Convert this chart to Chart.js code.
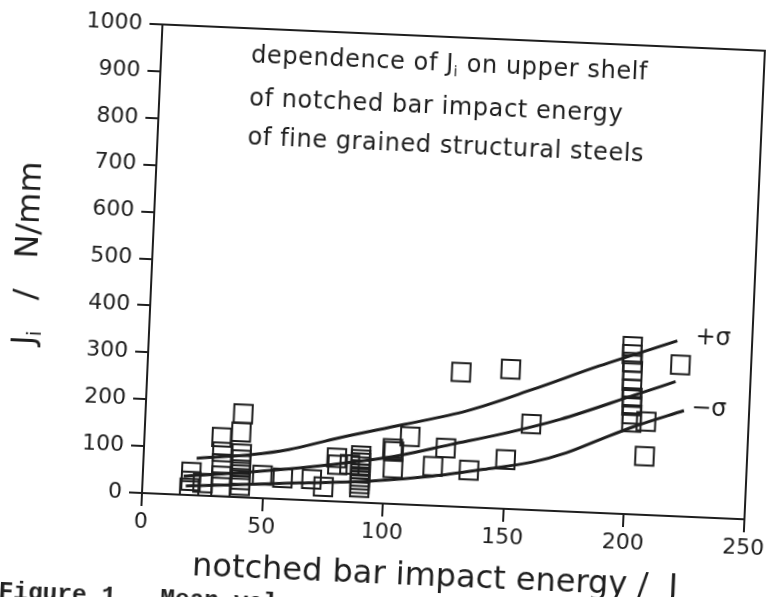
<!DOCTYPE html>
<html>
<head>
<meta charset="utf-8">
<script src="https://cdn.jsdelivr.net/npm/chart.js@4.4.1/dist/chart.umd.min.js"></script>
<style>
html, body { margin: 0; padding: 0; background: #fff; overflow: hidden; }
#page { position: absolute; left: 0; top: 0; width: 771px; height: 597px;
        transform: rotate(2.5deg); transform-origin: 142px 493px; }
#caption { position: absolute; left: 3px; top: 584px; color: #222; white-space: pre;
           font: bold 24.5px "Liberation Mono", monospace; }
</style>
</head>
<body>
<div id="page">
  <canvas id="chart" width="771" height="597"></canvas>
  <div id="caption">Figure 1.  Mean values</div>
</div>
<script>
// measured points (impact energy J, Ji N/mm)
var pointX = [20, 20, 19.5, 25,
  32, 32.5, 32.5, 32.5, 32.5,
  40.5, 40, 40.5, 40.5, 40.5, 40.5, 40.5, 40.5, 40.5,
  49.5, 58, 70, 75, 80, 80.5, 85.5,
  90, 90, 90, 90, 90, 90, 90, 90, 90, 90,
  103, 103.5, 103.5, 110, 120, 125, 130, 135, 150, 150.5, 160,
  200.5, 200.5, 200.8, 201, 201, 201, 201.3, 201.3, 201.5, 201.5,
  207.5, 207.5, 220.7];
var pointY = [49, 30, 15, 27,
  126, 95, 70, 44, 20,
  178, 139, 93, 80, 69, 59, 48, 37, 25,
  49, 45, 45, 30, 93, 78, 80,
  100, 92, 85, 77, 70, 62, 55, 48, 40, 32,
  118, 112, 76, 145, 84, 124, 287, 79, 105, 298, 183,
  358, 341, 324, 306, 284, 267, 249, 231, 213, 196,
  199, 125, 323];

// curves
var meanX = [17, 40, 65, 92, 106, 127, 147, 172, 202, 219];
var meanY = [40, 52, 68, 90, 104, 132, 158, 196, 254, 287];
var plusX = [22, 45, 60, 80, 107, 133, 160, 187, 219];
var plusY = [79, 92, 106, 135, 170, 205, 257, 313, 374];
var minusX = [18, 65, 93, 120, 141, 161, 175, 189, 202, 223];
var minusY = [19, 36, 46, 63, 82, 102, 125, 157, 186, 226];

var xTicks = [0, 50, 100, 150, 200, 250];
var yTicks = [0, 100, 200, 300, 400, 500, 600, 700, 800, 900, 1000];

var INK = '#1e1e1e';
var FONT = 'DejaVu Sans';

function xy(xs, ys) { return xs.map(function (x, i) { return {x: x, y: ys[i]}; }); }

function drawRuns(ctx, runs, x, y, size) {
  runs.forEach(function (r) {
    var fs = r[1] ? size * 0.6 : size;
    ctx.font = fs + 'px "' + FONT + '"';
    ctx.fillText(r[0], x, y + (r[1] ? size * 0.3 : 0));
    x += ctx.measureText(r[0]).width;
  });
}
function runsWidth(ctx, runs, size) {
  var w = 0;
  runs.forEach(function (r) {
    ctx.font = (r[1] ? size * 0.6 : size) + 'px "' + FONT + '"';
    w += ctx.measureText(r[0]).width;
  });
  return w;
}

var decor = {
  id: 'decor',
  afterDraw: function (chart) {
    var ctx = chart.ctx, a = chart.chartArea;
    ctx.save();
    ctx.strokeStyle = INK;
    ctx.lineWidth = 2;
    ctx.strokeRect(a.left, a.top, a.right - a.left, a.bottom - a.top);
    ctx.fillStyle = INK;
    ctx.textBaseline = 'middle';
    ctx.textAlign = 'left';

    // note in the upper part
    ctx.save();
    ctx.letterSpacing = '0.6px';
    var lx = a.left + 90;
    drawRuns(ctx, [['dependence of J'], ['i', 1], [' on upper shelf']], lx, a.top + 28, 24);
    drawRuns(ctx, [['of notched bar impact energy']], lx, a.top + 71, 24);
    drawRuns(ctx, [['of fine grained structural steels']], lx, a.top + 110, 24);
    ctx.restore();

    // y axis title
    var yt = [['J'], ['i', 1], ['   /   N/mm']];
    ctx.save();
    ctx.translate(a.left - 123, (a.top + a.bottom) / 2);
    ctx.rotate(-Math.PI / 2);
    drawRuns(ctx, yt, -runsWidth(ctx, yt, 32) / 2, 0, 32);
    ctx.restore();

    // curve labels
    ctx.font = '24px "' + FONT + '"';
    var p = chart.getDatasetMeta(2).data[plusX.length - 1];
    ctx.fillText('+σ', p.x + 18, p.y - 4);
    var m = chart.getDatasetMeta(3).data[minusX.length - 1];
    ctx.fillText('−σ', m.x + 7, m.y - 2);
    ctx.restore();
  }
};

function curve(label, xs, ys) {
  return {
    label: label, data: xy(xs, ys), showLine: true, cubicInterpolationMode: 'monotone',
    borderColor: INK, borderWidth: 3, pointRadius: 0, fill: false
  };
}

var ctx = document.getElementById('chart').getContext('2d');
new Chart(ctx, {
  type: 'scatter',
  data: {
    datasets: [
      {
        label: 'Ji',
        data: xy(pointX, pointY),
        pointStyle: 'rect',
        pointRadius: 13,
        pointBorderWidth: 2,
        borderColor: INK,
        backgroundColor: 'rgba(0,0,0,0)'
      },
      curve('mean', meanX, meanY),
      curve('+sigma', plusX, plusY),
      curve('-sigma', minusX, minusY)
    ]
  },
  options: {
    responsive: false,
    animation: false,
    layout: { padding: { left: 0, top: 24, right: 26, bottom: 0 } },
    plugins: { legend: { display: false }, tooltip: { enabled: false } },
    scales: {
      x: {
        type: 'linear', min: 0, max: 250,
        afterBuildTicks: function (s) { s.ticks = xTicks.map(function (v) { return {value: v}; }); },
        afterFit: function (s) { s.height = 104; },
        ticks: { color: INK, font: { family: FONT, size: 22 }, padding: 3, maxRotation: 0,
                 callback: function (v) { return String(v); } },
        grid: { drawOnChartArea: false, drawTicks: true, tickLength: 13, color: INK, lineWidth: 2 },
        border: { color: INK, width: 2 },
        title: {
          display: true, text: 'notched bar impact energy /  J ', color: INK,
          font: { family: FONT, size: 32 }, padding: { top: 0, bottom: 13 }
        }
      },
      y: {
        type: 'linear', min: 0, max: 1000,
        afterBuildTicks: function (s) { s.ticks = yTicks.map(function (v) { return {value: v}; }); },
        afterFit: function (s) { s.width = 142; },
        ticks: { color: INK, font: { family: FONT, size: 22 }, padding: 7,
                 callback: function (v) { return String(v); } },
        grid: { drawOnChartArea: false, drawTicks: true, tickLength: 13, color: INK, lineWidth: 2 },
        border: { color: INK, width: 2 }
      }
    }
  },
  plugins: [decor]
});
</script>
</body>
</html>
